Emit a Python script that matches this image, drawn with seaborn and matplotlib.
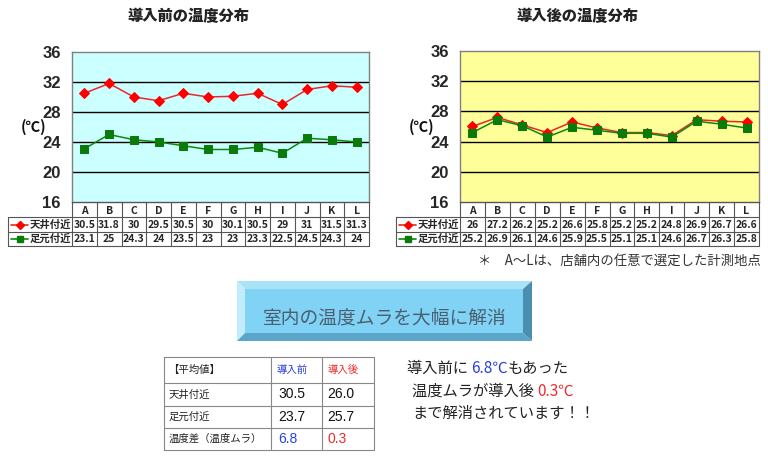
import matplotlib
matplotlib.use("Agg")
import matplotlib.pyplot as plt
from matplotlib.patches import Rectangle, Polygon
import seaborn as sns
import pandas as pd

sns.set_theme(style="white")
plt.rcParams['font.family'] = ['Noto Sans CJK JP', 'DejaVu Sans']

# ---------------- data ----------------
points = ["A", "B", "C", "D", "E", "F", "G", "H", "I", "J", "K", "L"]
before_ceiling = [30.5, 31.8, 30, 29.5, 30.5, 30, 30.1, 30.5, 29, 31, 31.5, 31.3]
before_floor = [23.1, 25, 24.3, 24, 23.5, 23, 23, 23.3, 22.5, 24.5, 24.3, 24]
after_ceiling = [26, 27.2, 26.2, 25.2, 26.6, 25.8, 25.2, 25.2, 24.8, 26.9, 26.7, 26.6]
after_floor = [25.2, 26.9, 26.1, 24.6, 25.9, 25.5, 25.1, 25.1, 24.6, 26.7, 26.3, 25.8]
series_names = ["天井付近", "足元付近"]
y_ticks = [16, 20, 24, 28, 32, 36]
titles = ["導入前の温度分布", "導入後の温度分布"]

avg_header = ["【平均値】", "導入前", "導入後"]
avg_rows = ["天井付近", "足元付近", "温度差（温度ムラ）"]
avg_before = ["30.5", "23.7", "6.8"]
avg_after = ["26.0", "25.7", "0.3"]

banner_text = "室内の温度ムラを大幅に解消"
footnote = "＊　A～Lは、店舗内の任意で選定した計測地点"

W, H = 768, 459
fig = plt.figure(figsize=(W / 100, H / 100), dpi=100)
fig.patch.set_facecolor("white")

# overlay axis in pixel coordinates
ov = fig.add_axes([0, 0, 1, 1], zorder=10)
ov.set_xlim(0, W)
ov.set_ylim(H, 0)
ov.axis("off")
ov.patch.set_alpha(0)

RED = "#e82828"
GREEN = "#0a8a0a"
GRN_M = "#0a7a0a"


def fig_rect(l, t, r, b):
    return [l / W, 1 - b / H, (r - l) / W, (b - t) / H]


def make_chart(l, t, r, b, bg, ceil, floor, title, tab_left, title_x):
    ax = fig.add_axes(fig_rect(l, t, r, b))
    df = pd.DataFrame({"pt": list(range(len(points))) * 2,
                       "temp": ceil + floor,
                       "series": [series_names[0]] * len(points) + [series_names[1]] * len(points)})
    ax.set_facecolor(bg)
    for yv in y_ticks[1:-1]:
        ax.axhline(yv, color="black", lw=1.0, zorder=1)
    sns.lineplot(data=df, x="pt", y="temp", hue="series", style="series",
                 palette={series_names[0]: RED, series_names[1]: GREEN},
                 markers={series_names[0]: "D", series_names[1]: "s"},
                 dashes=False, markersize=5.2, lw=1.1, legend=False, ax=ax, zorder=3)
    for line, mc in zip(ax.lines[-2:], ["#ff0000", GRN_M]):
        line.set_markerfacecolor(mc)
        line.set_markeredgecolor(mc)
    ax.set_xlim(-0.5, len(points) - 0.5)
    ax.set_ylim(16, 36)
    ax.set_yticks(y_ticks)
    ax.set_yticklabels([str(v) for v in y_ticks], fontsize=12, fontweight="bold",
                       family="Liberation Sans")
    ax.tick_params(axis="y", length=0, pad=8)
    ax.set_xticks([])
    ax.set_xlabel("")
    ax.set_ylabel("")
    for s in ax.spines.values():
        s.set_color("#808080")
        s.set_linewidth(1.0)
    # title
    ov.text(title_x, 16, title, ha="center", va="center", fontsize=11, fontweight="heavy",
            color="#222222")
    # unit label
    ov.text(l - 38, 127, "(℃)", ha="center", va="center", fontsize=10.5, fontweight="bold",
            color="#111111")
    # data table
    cw = (r - l) / len(points)
    r0, r1, r2, r3 = b, b + 15, b + 30, b + 44
    lc = "#555555"
    ov.plot([l, r], [r0, r0], color=lc, lw=0.8)
    ov.plot([tab_left, r], [r1, r1], color=lc, lw=0.8)
    ov.plot([tab_left, r], [r2, r2], color=lc, lw=0.8)
    ov.plot([tab_left, r], [r3, r3], color=lc, lw=0.8)
    ov.plot([tab_left, tab_left], [r1, r3], color=lc, lw=0.8)
    for i in range(len(points) + 1):
        ov.plot([l + i * cw, l + i * cw], [r0, r3], color=lc, lw=0.8)
    for i, p in enumerate(points):
        cx = l + (i + 0.5) * cw
        ov.text(cx, (r0 + r1) / 2 + 1, p, ha="center", va="center", fontsize=7.5, fontweight="bold")
        ov.text(cx, (r1 + r2) / 2, f"{ceil[i]:g}", ha="center", va="center", fontsize=7.5,
                fontweight="bold")
        ov.text(cx, (r2 + r3) / 2, f"{floor[i]:g}", ha="center", va="center", fontsize=7.5,
                fontweight="bold")
    # legend keys in table
    for yy, col, mk, mc, name in [((r1 + r2) / 2, RED, "D", "#ff0000", series_names[0]),
                                  ((r2 + r3) / 2, GREEN, "s", GRN_M, series_names[1])]:
        ov.plot([tab_left + 3, tab_left + 20], [yy, yy], color=col, lw=1.2)
        ov.plot([tab_left + 11.5], [yy], marker=mk, color=mc, markersize=4.5)
        ov.text(tab_left + 22, yy, name, ha="left", va="center", fontsize=7.5, fontweight="bold")
    return ax


make_chart(72, 52, 369, 202, "#ccffff", before_ceiling, before_floor, titles[0], 8, 188)
make_chart(460, 51, 759, 202, "#ffff99", after_ceiling, after_floor, titles[1], 396, 577)

# footnote
ov.text(761, 261, footnote, ha="right", va="center", fontsize=9.6, color="#333333")

# ---------------- banner ----------------
ol, ot, orr, ob = 237, 281, 532, 341
il, it, ir, ib = 245, 289, 523, 333
ov.add_patch(Polygon([(ol, ot), (orr, ot), (ir, it), (il, it)], closed=True,
                     facecolor="#a9e3f8", edgecolor="none"))
ov.add_patch(Polygon([(ol, ot), (il, it), (il, ib), (ol, ob)], closed=True,
                     facecolor="#c2ecfa", edgecolor="none"))
ov.add_patch(Polygon([(orr, ot), (orr, ob), (ir, ib), (ir, it)], closed=True,
                     facecolor="#4b8fb0", edgecolor="none"))
ov.add_patch(Polygon([(ol, ob), (il, ib), (ir, ib), (orr, ob)], closed=True,
                     facecolor="#5aa6cb", edgecolor="none"))
ov.add_patch(Rectangle((il, it), ir - il, ib - it, facecolor="#80d3f5", edgecolor="none"))
ov.text((ol + orr) / 2, 318, banner_text, ha="center", va="center", fontsize=13.5,
        color="#4a5f70")

# ---------------- average table ----------------
xs = [164, 271, 322, 374]
ys = [357, 383, 406, 428, 450]
tc = "#888888"
for yv in ys:
    ov.plot([xs[0], xs[-1]], [yv, yv], color=tc, lw=0.8)
for xv in xs:
    ov.plot([xv, xv], [ys[0], ys[-1]], color=tc, lw=0.8)
ov.text(xs[0] + 4, (ys[0] + ys[1]) / 2, avg_header[0], ha="left", va="center", fontsize=7.5,
        color="#222222")
ov.text(xs[1] + 6, (ys[0] + ys[1]) / 2, avg_header[1], ha="left", va="center", fontsize=7.5,
        color="#2a3fe0")
ov.text(xs[2] + 6, (ys[0] + ys[1]) / 2, avg_header[2], ha="left", va="center", fontsize=7.5,
        color="#ee2a2a")
for i, name in enumerate(avg_rows):
    cy = (ys[i + 1] + ys[i + 2]) / 2
    last = i == len(avg_rows) - 1
    ov.text(xs[0] + 5, cy, name, ha="left", va="center", fontsize=7.5, color="#222222")
    ov.text(xs[1] + 7, cy, avg_before[i], ha="left", va="center", fontsize=10,
            color="#2a3fe0" if last else "#111111", family="Liberation Sans")
    ov.text(xs[2] + 5, cy, avg_after[i], ha="left", va="center", fontsize=10,
            color="#ee2a2a" if last else "#111111", family="Liberation Sans")

# ---------------- message text ----------------
def rich_line(x, y, parts):
    prev = None
    for txt, col in parts:
        if prev is None:
            prev = ov.text(x, y, txt, ha="left", va="center", fontsize=11, color=col)
        else:
            prev = ov.annotate(txt, xy=(1, 0.5), xycoords=prev, ha="left", va="center",
                               fontsize=11, color=col)


rich_line(407, 368, [("導入前に ", "#222222"), ("6.8℃", "#2a3fe0"), ("もあった", "#222222")])
rich_line(412, 391, [("温度ムラが導入後 ", "#222222"), ("0.3℃", "#ee2a2a")])
rich_line(412, 413, [("まで解消されています！！", "#222222")])

fig.savefig("out.png", dpi=100, facecolor="white")
